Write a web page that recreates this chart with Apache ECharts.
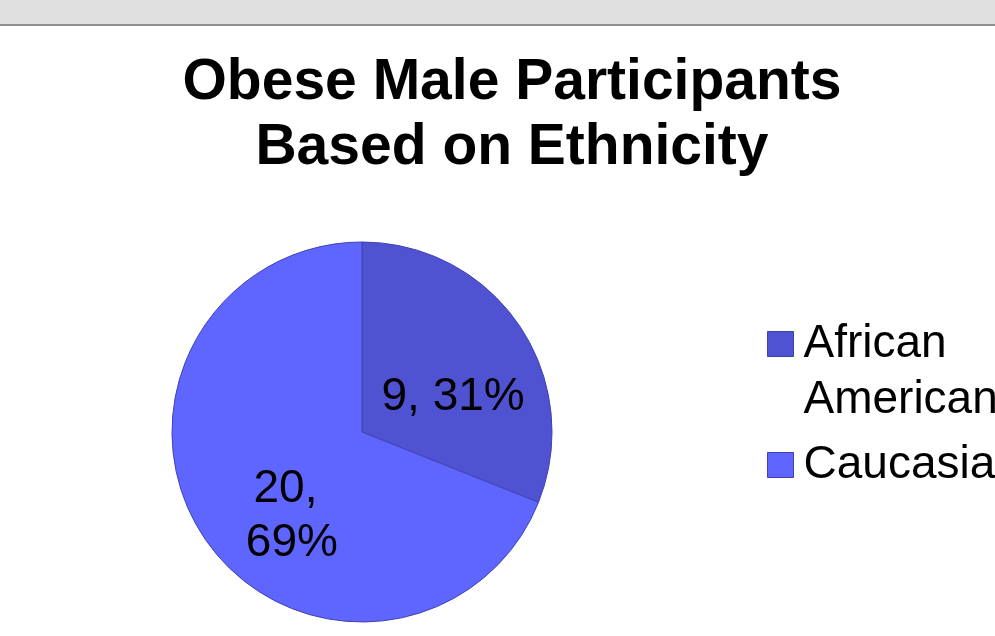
<!DOCTYPE html>
<html>
<head>
<meta charset="utf-8">
<script src="https://cdn.jsdelivr.net/npm/echarts@6/dist/echarts.min.js"></script>
<style>
  html, body { margin: 0; padding: 0; background: #ffffff; }
  #chart { width: 995px; height: 636px; }
</style>
</head>
<body>
<div id="chart"></div>
<script>
// Obese male participants grouped by ethnicity
const categories = ['African American', 'Caucasian'];
const counts = [9, 20];
const sliceColors = ['#5053D1', '#5E66FF'];

const FONT = '"Liberation Sans", Arial, sans-serif';

const chart = echarts.init(document.getElementById('chart'), null, { renderer: 'canvas' });

const pieData = categories.map((name, i) => {
  const item = { name: name, value: counts[i], itemStyle: { color: sliceColors[i] } };
  if (i === 1) {
    // narrow label box so the value and percentage wrap onto two lines
    item.label = { width: 115, overflow: 'break' };
  }
  return item;
});

const labelShift = [[10, 20], [11, 29]];

chart.setOption({
  backgroundColor: '#ffffff',
  animation: false,
  graphic: [
    { type: 'rect', left: 0, top: 0, shape: { width: 995, height: 24 }, style: { fill: '#E0E0E0' }, silent: true },
    { type: 'rect', left: 0, top: 24, shape: { width: 995, height: 2 }, style: { fill: '#8E8E8E' }, silent: true }
  ],
  title: {
    text: 'Obese Male Participants\nBased on Ethnicity',
    left: 512,
    top: 51,
    padding: 0,
    textAlign: 'center',
    textStyle: {
      fontFamily: FONT,
      fontWeight: 'bold',
      fontSize: 57,
      lineHeight: 65,
      color: '#000000'
    }
  },
  legend: {
    orient: 'vertical',
    left: 767,
    top: 260,
    padding: 0,
    itemWidth: 26,
    itemHeight: 25,
    itemGap: 9,
    icon: 'rect',
    data: categories,
    // long names wrap; a leading blank line keeps the first line level with the swatch
    formatter: name => (name.indexOf(' ') >= 0 ? '\n' + name.replace(' ', '\n') : name),
    itemStyle: { borderColor: '#4040B0', borderWidth: 1 },
    textStyle: {
      fontFamily: FONT,
      fontSize: 46,
      lineHeight: 56,
      color: '#000000',
      padding: [0, 0, 0, 5]
    }
  },
  series: [{
    type: 'pie',
    center: [362, 432],
    radius: 190,
    startAngle: 90,
    clockwise: true,
    percentPrecision: 0,
    avoidLabelOverlap: false,
    itemStyle: { borderColor: '#4042B0', borderWidth: 1 },
    label: {
      show: true,
      position: 'inside',
      formatter: '{c}, {d}%',
      fontFamily: FONT,
      fontSize: 46,
      lineHeight: 54,
      color: '#000000',
      align: 'center'
    },
    labelLine: { show: false },
    labelLayout: params => ({ dx: labelShift[params.dataIndex][0], dy: labelShift[params.dataIndex][1] }),
    emphasis: { disabled: true },
    data: pieData
  }]
});
</script>
</body>
</html>
